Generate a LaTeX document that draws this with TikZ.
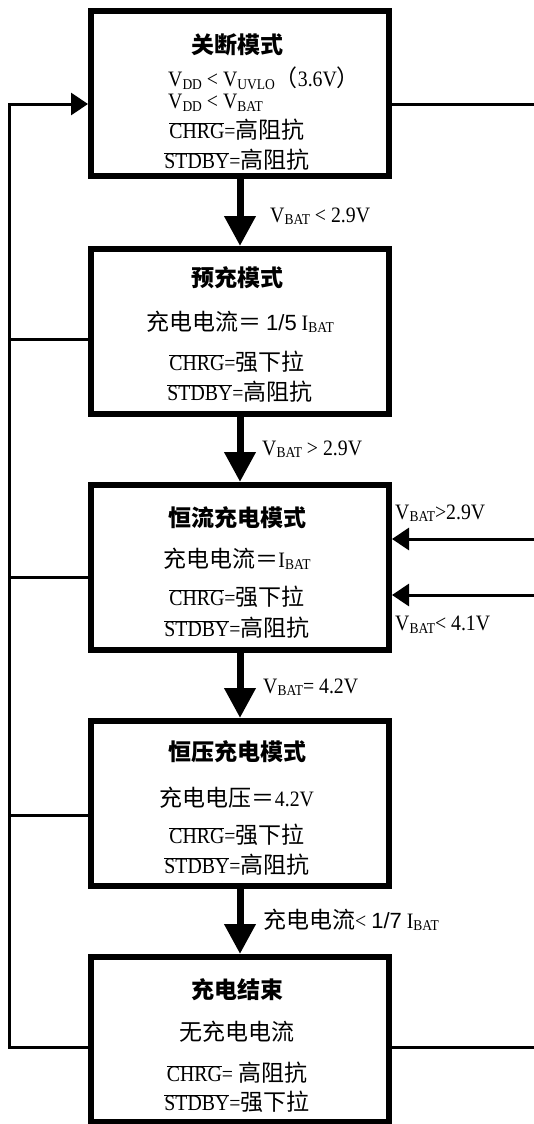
\documentclass[tikz,border=0pt]{standalone}
\usepackage{fontspec}
\setmainfont{Liberation Serif}[FakeStretch=0.9]
\newfontfamily\cjk{Noto Sans CJK SC}
\newfontfamily\lsans{Liberation Sans}
\usetikzlibrary{arrows.meta}
\newcommand\zh[1]{{\cjk\fontsize{23}{26}\selectfont #1}}
\newcommand\ovl[1]{$\overline{\mbox{#1}}$}
\newcommand\lo[1]{\raisebox{-0.25ex}{\fontsize{15}{15}\selectfont #1}}
\tikzset{
  modebox/.style={draw, rectangle, line width=6pt, inner sep=0pt,
    minimum width=298pt, minimum height=165pt},
  txt/.style={inner sep=0pt, font=\fontsize{22}{26}\selectfont},
  flow/.style={line width=7pt, -{Triangle[length=30pt,width=30pt]}},
  wire/.style={line width=3pt},
  wirearrow/.style={line width=3pt, -{Triangle[length=17pt,width=22pt]}}
}
\begin{document}
\begin{tikzpicture}[x=1pt,y=-1pt]
  \useasboundingbox (0,0) rectangle (534,1124);
  \draw
    (240,93.5) node[modebox] (off){}
    (240,331.5) node[modebox] (pre){}
    (240,567.5) node[modebox] (cc){}
    (240,803.5) node[modebox] (cv){}
    (240,1039.5) node[modebox] (end){};
  % texts in the boxes
  \node[txt] (offT) at (237,45) {\zh{\bfseries 关断模式}};
  \node[txt, anchor=west, align=left, font=\fontsize{22}{22}\selectfont] (offV) at (168,89)
    {V\lo{DD} < V\lo{UVLO}\zh{（}3.6V\zh{）}\\V\lo{DD} < V\lo{BAT}};
  \node[txt] (offC) at (237,130) {\ovl{CHRG}=\zh{高阻抗}};
  \node[txt] (offS) at (237,160) {\ovl{STDBY}=\zh{高阻抗}};
  \node[txt] (preT) at (237,278) {\zh{\bfseries 预充模式}};
  \node[txt] (preI) at (240,322) {\zh{充电电流＝} {\lsans 1/5} I\lo{BAT}};
  \node[txt] (preC) at (237,362) {\ovl{CHRG}=\zh{强下拉}};
  \node[txt] (preS) at (240,392) {\ovl{STDBY}=\zh{高阻抗}};
  \node[txt] (ccT) at (237,518) {\zh{\bfseries 恒流充电模式}};
  \node[txt] (ccI) at (237,559) {\zh{充电电流＝}I\lo{BAT}};
  \node[txt] (ccC) at (237,597) {\ovl{CHRG}=\zh{强下拉}};
  \node[txt] (ccS) at (237,628) {\ovl{STDBY}=\zh{高阻抗}};
  \node[txt] (cvT) at (237,752) {\zh{\bfseries 恒压充电模式}};
  \node[txt] (cvV) at (237,798) {\zh{充电电压＝}4.2V};
  \node[txt] (cvC) at (237,835) {\ovl{CHRG}=\zh{强下拉}};
  \node[txt] (cvS) at (237,865) {\ovl{STDBY}=\zh{高阻抗}};
  \node[txt] (endT) at (237,990) {\zh{\bfseries 充电结束}};
  \node[txt] (endI) at (237,1032) {\zh{无充电电流}};
  \node[txt] (endC) at (237,1073) {\ovl{CHRG}= \zh{高阻抗}};
  \node[txt] (endS) at (237,1102) {\ovl{STDBY}=\zh{强下拉}};
  % conditions
  \node[txt, anchor=west] (c1) at (270,216) {V\lo{BAT} < 2.9V};
  \node[txt, anchor=west] (c2) at (262,449) {V\lo{BAT} > 2.9V};
  \node[txt, anchor=west] (c3) at (263,687) {V\lo{BAT}= 4.2V};
  \node[txt, anchor=west] (c4) at (263,920) {\zh{充电电流}< {\lsans 1/7} I\lo{BAT}};
  \node[txt, anchor=west] (c5) at (395,513) {V\lo{BAT}>2.9V};
  \node[txt, anchor=west] (c6) at (395,625) {V\lo{BAT}< 4.1V};
  % free ends
  \coordinate (loopTop) at (9,104);
  \coordinate (loopBot) at (9,1047);
  \coordinate (offOut) at (534,104);
  \coordinate (endOut) at (534,1047);
  \coordinate (ccIn1) at (534,539);
  \coordinate (ccIn2) at (534,595);
  \begin{scope}[flow]
    \draw (off) to (pre);
    \draw (pre) to (cc);
    \draw (cc) to (cv);
    \draw (cv) to (end);
  \end{scope}
  \begin{scope}[wire]
    \draw[wirearrow] (end.west |- loopBot) -- (loopBot) -- (loopTop) -- (off.west |- loopTop);
    \draw (pre.west |- 0,339) -- (loopBot |- 0,339);
    \draw (cc.west |- 0,577) -- (loopBot |- 0,577);
    \draw (cv.west |- 0,815) -- (loopBot |- 0,815);
    \draw (off.east |- offOut) -- (offOut);
    \draw (end.east |- endOut) -- (endOut);
    \draw[wirearrow] (ccIn1) -- (cc.east |- ccIn1);
    \draw[wirearrow] (ccIn2) -- (cc.east |- ccIn2);
  \end{scope}
\end{tikzpicture}
\end{document}
